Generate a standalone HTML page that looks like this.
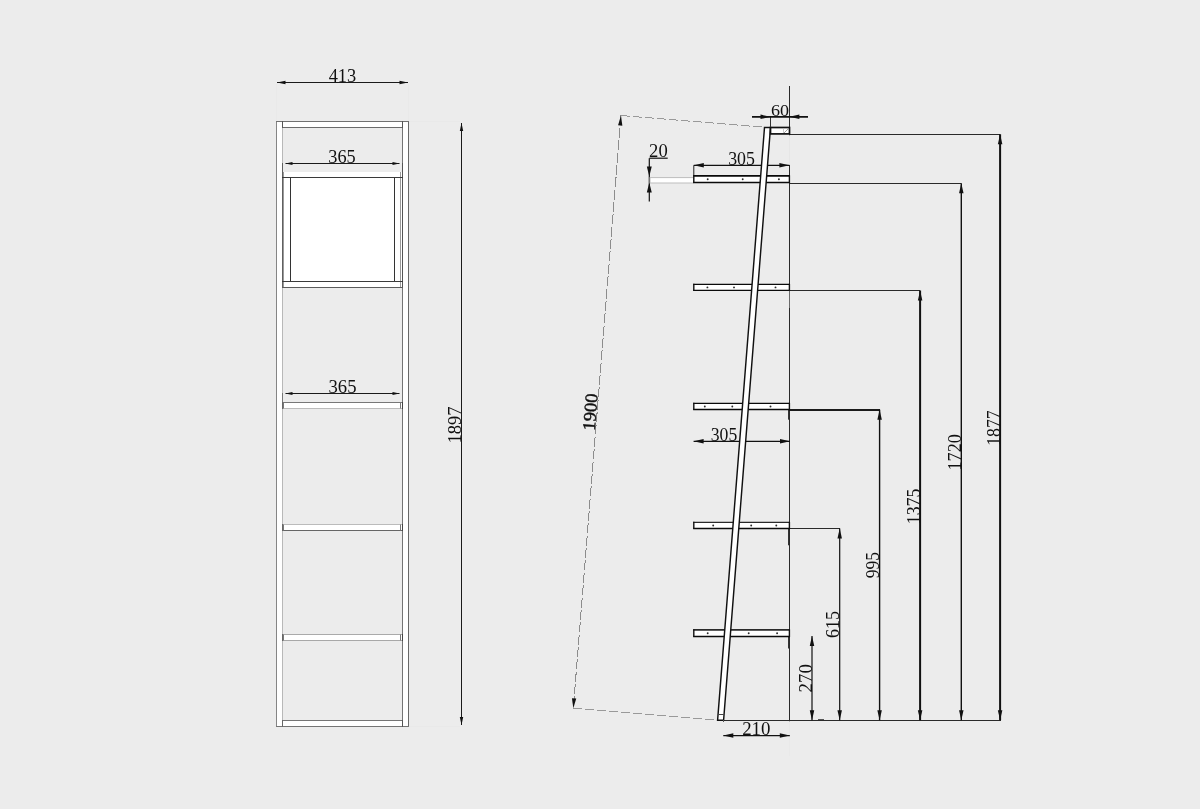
<!DOCTYPE html>
<html><head><meta charset="utf-8"><style>
html,body{margin:0;padding:0;background:#ececec;}
svg{display:block;filter:grayscale(1);}
text{font-family:"Liberation Serif", serif;}
</style></head><body>
<svg width="1200" height="809" viewBox="0 0 1200 809">
<rect x="0" y="0" width="1200" height="809" fill="#ececec"/>
<rect x="276" y="121" width="7" height="606" fill="#fff" stroke="none" stroke-width="1"/>
<rect x="402" y="121" width="7" height="606" fill="#fff" stroke="none" stroke-width="1"/>
<line x1="276.5" y1="121" x2="276.5" y2="727" stroke="#858585" stroke-width="1" />
<line x1="282.5" y1="121" x2="282.5" y2="727" stroke="#b8b8b8" stroke-width="1" />
<line x1="402.5" y1="121" x2="402.5" y2="727" stroke="#747474" stroke-width="1" />
<line x1="408.5" y1="121" x2="408.5" y2="727" stroke="#686868" stroke-width="1" />
<rect x="283" y="122" width="119" height="5" fill="#fff" stroke="none" stroke-width="1"/>
<rect x="283" y="721" width="119" height="5" fill="#fff" stroke="none" stroke-width="1"/>
<line x1="276" y1="121.5" x2="409" y2="121.5" stroke="#707070" stroke-width="1" />
<line x1="282" y1="127.5" x2="403" y2="127.5" stroke="#6a6a6a" stroke-width="1" />
<line x1="282" y1="720.5" x2="403" y2="720.5" stroke="#747474" stroke-width="1" />
<line x1="276" y1="726.5" x2="409" y2="726.5" stroke="#747474" stroke-width="1" />
<line x1="282.5" y1="121" x2="282.5" y2="128" stroke="#555" stroke-width="1" />
<line x1="402.5" y1="121" x2="402.5" y2="128" stroke="#555" stroke-width="1" />
<line x1="282.5" y1="720" x2="282.5" y2="727" stroke="#666" stroke-width="1" />
<line x1="402.5" y1="720" x2="402.5" y2="727" stroke="#555" stroke-width="1" />
<rect x="283" y="172" width="119" height="116" fill="#fff" stroke="none" stroke-width="1"/>
<line x1="283.5" y1="172" x2="283.5" y2="287.5" stroke="#9a9a9a" stroke-width="1" />
<line x1="400.5" y1="172" x2="400.5" y2="287.5" stroke="#9a9a9a" stroke-width="1" />
<line x1="282.5" y1="163" x2="282.5" y2="288" stroke="#606060" stroke-width="1" />
<line x1="402.5" y1="163" x2="402.5" y2="288" stroke="#555" stroke-width="1" />
<line x1="282" y1="177.5" x2="403" y2="177.5" stroke="#3a3a3a" stroke-width="1" />
<line x1="290.5" y1="177.5" x2="290.5" y2="281.5" stroke="#333" stroke-width="1" />
<line x1="394.5" y1="177.5" x2="394.5" y2="281.5" stroke="#333" stroke-width="1" />
<line x1="282" y1="281.5" x2="403" y2="281.5" stroke="#3a3a3a" stroke-width="1" />
<line x1="282" y1="287.5" x2="403" y2="287.5" stroke="#5a5a5a" stroke-width="1" />
<rect x="283" y="402" width="119" height="6" fill="#fff" stroke="none" stroke-width="1"/>
<line x1="282" y1="402.5" x2="403" y2="402.5" stroke="#777" stroke-width="1" />
<line x1="282" y1="408.5" x2="403" y2="408.5" stroke="#bbb" stroke-width="1" />
<line x1="283.5" y1="402.5" x2="283.5" y2="408.5" stroke="#777" stroke-width="1" />
<line x1="400.5" y1="402.5" x2="400.5" y2="408.5" stroke="#777" stroke-width="1" />
<line x1="282.5" y1="402" x2="282.5" y2="409" stroke="#666" stroke-width="1" />
<line x1="402.5" y1="402" x2="402.5" y2="409" stroke="#444" stroke-width="1" />
<line x1="282.5" y1="393" x2="282.5" y2="402" stroke="#777" stroke-width="1" />
<rect x="283" y="524" width="119" height="6" fill="#fff" stroke="none" stroke-width="1"/>
<line x1="282" y1="524.5" x2="403" y2="524.5" stroke="#bbb" stroke-width="1" />
<line x1="282" y1="530.5" x2="403" y2="530.5" stroke="#666" stroke-width="1" />
<line x1="283.5" y1="524.5" x2="283.5" y2="530.5" stroke="#777" stroke-width="1" />
<line x1="400.5" y1="524.5" x2="400.5" y2="530.5" stroke="#777" stroke-width="1" />
<line x1="282.5" y1="524" x2="282.5" y2="531" stroke="#666" stroke-width="1" />
<line x1="402.5" y1="524" x2="402.5" y2="531" stroke="#444" stroke-width="1" />
<rect x="283" y="634" width="119" height="6" fill="#fff" stroke="none" stroke-width="1"/>
<line x1="282" y1="634.5" x2="403" y2="634.5" stroke="#aaa" stroke-width="1" />
<line x1="282" y1="640.5" x2="403" y2="640.5" stroke="#a8a8a8" stroke-width="1" />
<line x1="283.5" y1="634.5" x2="283.5" y2="640.5" stroke="#777" stroke-width="1" />
<line x1="400.5" y1="634.5" x2="400.5" y2="640.5" stroke="#777" stroke-width="1" />
<line x1="282.5" y1="634" x2="282.5" y2="641" stroke="#666" stroke-width="1" />
<line x1="402.5" y1="634" x2="402.5" y2="641" stroke="#444" stroke-width="1" />
<line x1="276.5" y1="84" x2="276.5" y2="121" stroke="#e9e9e9" stroke-width="1" />
<line x1="408.5" y1="84" x2="408.5" y2="121" stroke="#e9e9e9" stroke-width="1" />
<line x1="409" y1="121.5" x2="460" y2="121.5" stroke="#e9e9e9" stroke-width="1" />
<line x1="409" y1="726.5" x2="460" y2="726.5" stroke="#e9e9e9" stroke-width="1" />
<line x1="277" y1="82.5" x2="408" y2="82.5" stroke="#1a1a1a" stroke-width="1" />
<polygon points="277.00,82.50 285.50,80.70 285.50,84.30" fill="#111"/>
<polygon points="408.00,82.50 399.50,84.30 399.50,80.70" fill="#111"/>
<text x="0" y="0" font-size="19" font-weight="normal" fill="#111" transform="translate(328.632 81.610) scale(0.9679 1.0025)">413</text>
<line x1="285.5" y1="163.5" x2="399.5" y2="163.5" stroke="#1a1a1a" stroke-width="1" />
<polygon points="285.50,163.50 292.50,162.10 292.50,164.90" fill="#111"/>
<polygon points="399.50,163.50 392.50,164.90 392.50,162.10" fill="#111"/>
<text x="0" y="0" font-size="19" font-weight="normal" fill="#111" transform="translate(328.220 163.002) scale(0.9647 1.0417)">365</text>
<line x1="285.5" y1="393.5" x2="399.5" y2="393.5" stroke="#1a1a1a" stroke-width="1" />
<polygon points="285.50,393.50 292.50,392.10 292.50,394.90" fill="#111"/>
<polygon points="399.50,393.50 392.50,394.90 392.50,392.10" fill="#111"/>
<text x="0" y="0" font-size="19" font-weight="normal" fill="#111" transform="translate(328.503 392.712) scale(0.9834 0.9868)">365</text>
<line x1="461.5" y1="123" x2="461.5" y2="725" stroke="#1a1a1a" stroke-width="1" />
<polygon points="461.50,123.00 463.20,131.00 459.80,131.00" fill="#111"/>
<polygon points="461.50,725.00 459.80,717.00 463.20,717.00" fill="#111"/>
<text x="0" y="0" font-size="19" font-weight="normal" fill="#111" transform="translate(460.807 443.536) rotate(-90) scale(0.9783 1.0136)">1897</text>
<line x1="621.0" y1="115.5" x2="573.3" y2="708.3" stroke="#8c8c8c" stroke-width="1" shape-rendering="crispEdges" stroke-dasharray="10 2.4"/>
<line x1="621.0" y1="115.5" x2="764" y2="127.2" stroke="#999" stroke-width="1" shape-rendering="crispEdges" stroke-dasharray="9 3"/>
<line x1="573.3" y1="708.3" x2="717.5" y2="720" stroke="#999" stroke-width="1" shape-rendering="crispEdges" stroke-dasharray="9 3"/>
<polygon points="621.00,115.50 622.34,125.64 618.05,125.30" fill="#111"/>
<polygon points="573.30,708.30 571.96,698.16 576.25,698.50" fill="#111"/>
<text x="0" y="0" font-size="19" font-weight="normal" fill="#111" stroke="#111" stroke-width="0.45" transform="translate(590.400 411.550) rotate(-85.400) scale(0.9788 0.9513) translate(-19.399 6.223)">1900</text>
<line x1="789.5" y1="86" x2="789.5" y2="135.5" stroke="#2a2a2a" stroke-width="1" />
<line x1="789.5" y1="135.5" x2="789.5" y2="165" stroke="#e6e6e6" stroke-width="1" />
<line x1="789.5" y1="165" x2="789.5" y2="290" stroke="#2a2a2a" stroke-width="1" />
<line x1="789.5" y1="290" x2="789.5" y2="308" stroke="#6a6a6a" stroke-width="1" />
<line x1="789.5" y1="308" x2="789.5" y2="721.5" stroke="#2a2a2a" stroke-width="1" />
<line x1="789.5" y1="721.5" x2="789.5" y2="756" stroke="#e9e9e9" stroke-width="1" />
<line x1="788.5" y1="636" x2="788.5" y2="648.5" stroke="#333" stroke-width="1" />
<line x1="788.5" y1="528" x2="788.5" y2="545.3" stroke="#333" stroke-width="1" />
<line x1="788.5" y1="409.5" x2="788.5" y2="419.7" stroke="#333" stroke-width="1" />
<line x1="717" y1="720.5" x2="1001" y2="720.5" stroke="#2a2a2a" stroke-width="1" />
<line x1="818" y1="719.5" x2="824" y2="719.5" stroke="#555" stroke-width="1" />
<line x1="789" y1="134.5" x2="1000" y2="134.5" stroke="#2a2a2a" stroke-width="1" />
<line x1="789" y1="183.5" x2="961" y2="183.5" stroke="#2a2a2a" stroke-width="1" />
<line x1="789" y1="290.5" x2="920" y2="290.5" stroke="#2a2a2a" stroke-width="1" />
<line x1="789" y1="410" x2="880" y2="410" stroke="#1a1a1a" stroke-width="2" />
<line x1="789" y1="528.5" x2="840" y2="528.5" stroke="#2a2a2a" stroke-width="1" />
<line x1="693.8" y1="165.3" x2="693.8" y2="176" stroke="#222" stroke-width="1" />
<line x1="693.8" y1="165.3" x2="789.4" y2="165.3" stroke="#111" stroke-width="1.3" />
<polygon points="693.80,165.30 703.80,163.05 703.80,167.55" fill="#111"/>
<polygon points="789.40,165.30 779.40,167.55 779.40,163.05" fill="#111"/>
<text x="0" y="0" font-size="19" font-weight="normal" fill="#111" transform="translate(728.144 164.516) scale(0.9387 0.9669)">305</text>
<line x1="693.6" y1="441.3" x2="790" y2="441.3" stroke="#111" stroke-width="1.3" />
<polygon points="693.60,441.30 703.60,439.05 703.60,443.55" fill="#111"/>
<polygon points="790.00,441.30 780.00,443.55 780.00,439.05" fill="#111"/>
<text x="0" y="0" font-size="19" font-weight="normal" fill="#111" transform="translate(710.751 440.613) scale(0.9312 0.9825)">305</text>
<line x1="649.4" y1="158.2" x2="667.7" y2="158.2" stroke="#111" stroke-width="1.2" />
<line x1="649.3" y1="158.2" x2="649.3" y2="201.4" stroke="#111" stroke-width="1.2" />
<polygon points="649.30,176.60 646.85,166.60 651.75,166.60" fill="#111"/>
<polygon points="649.30,182.60 651.75,192.60 646.85,192.60" fill="#111"/>
<rect x="650" y="177.6" width="43.5" height="5.4" fill="#fff" stroke="#bdbdbd" stroke-width="1"/>
<text x="0" y="0" font-size="19" font-weight="normal" fill="#111" transform="translate(649.080 157.116) scale(0.9804 0.9669)">20</text>
<rect x="693.8" y="175.9" width="95.60000000000002" height="6.599999999999994" fill="#fff" stroke="none" stroke-width="1"/>
<line x1="693.2" y1="175.9" x2="790" y2="175.9" stroke="#0a0a0a" stroke-width="1.9" />
<line x1="693.2" y1="182.5" x2="790" y2="182.5" stroke="#0a0a0a" stroke-width="1.3" />
<line x1="693.8" y1="175.3" x2="693.8" y2="183.1" stroke="#111" stroke-width="1.4" />
<line x1="789.4" y1="175.3" x2="789.4" y2="183.1" stroke="#111" stroke-width="1.4" />
<circle cx="707.7" cy="179.20" r="0.95" fill="#2a2a2a"/>
<circle cx="742.7" cy="179.20" r="0.95" fill="#2a2a2a"/>
<circle cx="778.9" cy="179.20" r="0.95" fill="#2a2a2a"/>
<rect x="693.8" y="284.4" width="95.60000000000002" height="6.0" fill="#fff" stroke="none" stroke-width="1"/>
<line x1="693.2" y1="284.4" x2="790" y2="284.4" stroke="#0a0a0a" stroke-width="1.3" />
<line x1="693.2" y1="290.4" x2="790" y2="290.4" stroke="#0a0a0a" stroke-width="1.3" />
<line x1="693.8" y1="283.79999999999995" x2="693.8" y2="291.0" stroke="#111" stroke-width="1.4" />
<line x1="789.4" y1="283.79999999999995" x2="789.4" y2="291.0" stroke="#111" stroke-width="1.4" />
<circle cx="707.4" cy="287.40" r="0.95" fill="#2a2a2a"/>
<circle cx="734.0" cy="287.40" r="0.95" fill="#2a2a2a"/>
<circle cx="775.5" cy="287.40" r="0.95" fill="#2a2a2a"/>
<rect x="693.8" y="403.4" width="95.60000000000002" height="6.100000000000023" fill="#fff" stroke="none" stroke-width="1"/>
<line x1="693.2" y1="403.4" x2="790" y2="403.4" stroke="#0a0a0a" stroke-width="1.3" />
<line x1="693.2" y1="409.5" x2="790" y2="409.5" stroke="#0a0a0a" stroke-width="1.4" />
<line x1="693.8" y1="402.79999999999995" x2="693.8" y2="410.1" stroke="#111" stroke-width="1.4" />
<line x1="789.4" y1="402.79999999999995" x2="789.4" y2="410.1" stroke="#111" stroke-width="1.4" />
<circle cx="704.8" cy="406.45" r="0.95" fill="#2a2a2a"/>
<circle cx="732.3" cy="406.45" r="0.95" fill="#2a2a2a"/>
<circle cx="770.5" cy="406.45" r="0.95" fill="#2a2a2a"/>
<rect x="693.8" y="522.4" width="95.60000000000002" height="6.100000000000023" fill="#fff" stroke="none" stroke-width="1"/>
<line x1="693.2" y1="522.4" x2="790" y2="522.4" stroke="#2a2a2a" stroke-width="1.4" />
<line x1="693.2" y1="528.5" x2="790" y2="528.5" stroke="#0a0a0a" stroke-width="1.3" />
<line x1="693.8" y1="521.8" x2="693.8" y2="529.1" stroke="#111" stroke-width="1.4" />
<line x1="789.4" y1="521.8" x2="789.4" y2="529.1" stroke="#111" stroke-width="1.4" />
<circle cx="713.2" cy="525.45" r="0.95" fill="#2a2a2a"/>
<circle cx="751.2" cy="525.45" r="0.95" fill="#2a2a2a"/>
<circle cx="776.3" cy="525.45" r="0.95" fill="#2a2a2a"/>
<rect x="693.8" y="629.9" width="95.60000000000002" height="6.600000000000023" fill="#fff" stroke="none" stroke-width="1"/>
<line x1="693.2" y1="629.9" x2="790" y2="629.9" stroke="#2a2a2a" stroke-width="1.9" />
<line x1="693.2" y1="636.5" x2="790" y2="636.5" stroke="#0a0a0a" stroke-width="1.4" />
<line x1="693.8" y1="629.3" x2="693.8" y2="637.1" stroke="#111" stroke-width="1.4" />
<line x1="789.4" y1="629.3" x2="789.4" y2="637.1" stroke="#111" stroke-width="1.4" />
<circle cx="707.7" cy="633.20" r="0.95" fill="#2a2a2a"/>
<circle cx="748.7" cy="633.20" r="0.95" fill="#2a2a2a"/>
<circle cx="777.1" cy="633.20" r="0.95" fill="#2a2a2a"/>
<polygon points="764.5,127.5 770.5,127.5 723.6,720.2 717.6,720.2" fill="#fff" stroke="#111" stroke-width="1.45" stroke-linejoin="miter"/>
<line x1="718" y1="714.5" x2="724" y2="714.5" stroke="#444" stroke-width="1" />
<rect x="770.5" y="127.5" width="19" height="6.4" fill="#fff" stroke="#111" stroke-width="1.7"/>
<line x1="783.5" y1="128.5" x2="783.5" y2="133" stroke="#bbb" stroke-width="0.8" />
<line x1="784" y1="133" x2="788.5" y2="128.5" stroke="#888" stroke-width="0.8" />
<line x1="770.5" y1="117" x2="770.5" y2="127" stroke="#333" stroke-width="1" />
<line x1="752" y1="116.8" x2="808" y2="116.8" stroke="#111" stroke-width="1.8" />
<polygon points="770.50,116.80 760.50,119.05 760.50,114.55" fill="#111"/>
<polygon points="789.40,116.80 799.40,114.55 799.40,119.05" fill="#111"/>
<text x="0" y="0" font-size="19" font-weight="normal" fill="#111" transform="translate(770.923 115.527) scale(0.9507 0.9123)">60</text>
<line x1="723.3" y1="735.6" x2="789.8" y2="735.6" stroke="#111" stroke-width="1.2" />
<polygon points="723.30,735.60 733.30,733.35 733.30,737.85" fill="#111"/>
<polygon points="789.80,735.60 779.80,737.85 779.80,733.35" fill="#111"/>
<text x="0" y="0" font-size="19" font-weight="normal" fill="#111" transform="translate(742.168 734.921) scale(0.9947 0.9435)">210</text>
<line x1="723.5" y1="720" x2="723.5" y2="722" stroke="#555" stroke-width="1" />
<line x1="1000.1" y1="134.2" x2="1000.1" y2="720.3" stroke="#111" stroke-width="2.0" />
<polygon points="1000.10,134.20 1002.35,144.20 997.85,144.20" fill="#111"/>
<polygon points="1000.10,720.30 997.85,710.30 1002.35,710.30" fill="#111"/>
<text x="0" y="0" font-size="19" font-weight="normal" fill="#111" transform="translate(999.804 445.761) rotate(-90) scale(0.9336 1.0292)">1877</text>
<line x1="961.3" y1="183.3" x2="961.3" y2="720.3" stroke="#111" stroke-width="1.4" />
<polygon points="961.30,183.30 963.55,193.30 959.05,193.30" fill="#111"/>
<polygon points="961.30,720.30 959.05,710.30 963.55,710.30" fill="#111"/>
<text x="0" y="0" font-size="19" font-weight="normal" fill="#111" transform="translate(960.810 470.501) rotate(-90) scale(0.9577 0.9981)">1720</text>
<line x1="920.1" y1="290.5" x2="920.1" y2="720.3" stroke="#111" stroke-width="2.0" />
<polygon points="920.10,290.50 922.35,300.50 917.85,300.50" fill="#111"/>
<polygon points="920.10,720.30 917.85,710.30 922.35,710.30" fill="#111"/>
<text x="0" y="0" font-size="19" font-weight="normal" fill="#111" transform="translate(919.807 524.269) rotate(-90) scale(0.9385 1.0182)">1375</text>
<line x1="879.6" y1="409.8" x2="879.6" y2="720.3" stroke="#111" stroke-width="1.4" />
<polygon points="879.60,409.80 881.85,419.80 877.35,419.80" fill="#111"/>
<polygon points="879.60,720.30 877.35,710.30 881.85,710.30" fill="#111"/>
<text x="0" y="0" font-size="19" font-weight="normal" fill="#111" transform="translate(878.818 578.260) rotate(-90) scale(0.9208 0.9555)">995</text>
<line x1="839.7" y1="528.5" x2="839.7" y2="720.3" stroke="#111" stroke-width="1.2" />
<polygon points="839.70,528.50 841.95,538.50 837.45,538.50" fill="#111"/>
<polygon points="839.70,720.30 837.45,710.30 841.95,710.30" fill="#111"/>
<text x="0" y="0" font-size="19" font-weight="normal" fill="#111" transform="translate(838.812 638.076) rotate(-90) scale(0.9502 0.9868)">615</text>
<line x1="812.0" y1="636.0" x2="812.0" y2="720.3" stroke="#111" stroke-width="1.2" />
<polygon points="812.00,636.00 814.25,646.00 809.75,646.00" fill="#111"/>
<polygon points="812.00,720.30 809.75,710.30 814.25,710.30" fill="#111"/>
<text x="0" y="0" font-size="19" font-weight="normal" fill="#111" transform="translate(811.713 692.428) rotate(-90) scale(0.9910 0.9825)">270</text>
</svg>
</body></html>
